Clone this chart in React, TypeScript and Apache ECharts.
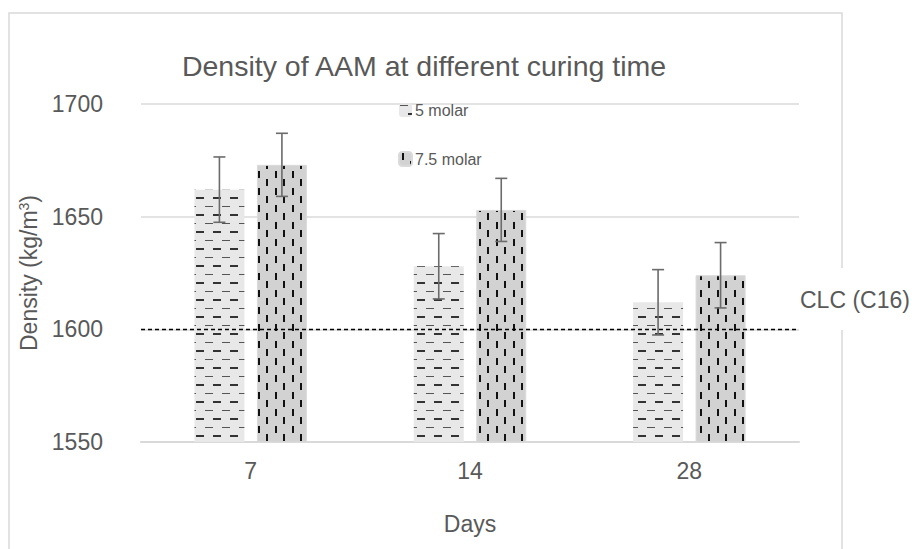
import React, { useEffect, useRef } from "react";
import * as echarts from "echarts";

const categories = ["7", "14", "28"];
const seriesNames = ["5 molar", "7.5 molar"];
const molar5 = [1662, 1628, 1612];
const molar75 = [1673, 1653, 1624];
const err5 = [14.5, 14.5, 14.5];
const err75 = [14, 14, 14.5];
const yTicks = { min: 1550, max: 1700, interval: 50 };
const clcValue = 1600;
const clcLabel = "CLC (C16)";
const titleText = "Density of AAM at different curing time";
const xName = "Days";

const FONT = "'Liberation Sans', Arial, sans-serif";
const TXT = "#595959";
const BAR_W = 50;
const GAP_RATIO = 0.25;

function makePattern(kind: "h" | "v"): HTMLCanvasElement {
  const c = document.createElement("canvas");
  c.width = 17;
  c.height = 17;
  const g = c.getContext("2d")!;
  if (kind === "h") {
    g.fillStyle = "#e8e8e8";
    g.fillRect(0, 0, 17, 17);
    g.fillStyle = "#555555";
    g.fillRect(1, 2, 8, 1);
    g.fillStyle = "#333333";
    g.fillRect(9, 10, 8, 2);
  } else {
    g.fillStyle = "#d2d2d2";
    g.fillRect(0, 0, 17, 17);
    g.fillStyle = "#111111";
    g.fillRect(3, 1, 2, 7);
    g.fillRect(11, 9, 2, 7);
  }
  return c;
}

export default function App() {
  const ref = useRef<HTMLDivElement>(null);
  useEffect(() => {
    if (!ref.current) return;
    const chart = echarts.init(ref.current, undefined, { renderer: "svg" });
    const offset = (BAR_W + BAR_W * GAP_RATIO) / 2;
    const errData = (vals: number[], errs: number[]) =>
      vals.map((v, i) => [i, v - errs[i], v + errs[i]]);
    const errSeries = (name: string, vals: number[], errs: number[], sign: number) => ({
      type: "custom",
      name: name + " err",
      data: errData(vals, errs),
      z: 10,
      silent: true,
      renderItem: (params: any, api: any) => {
        const lo = api.coord([api.value(0), api.value(1)]);
        const hi = api.coord([api.value(0), api.value(2)]);
        const x = lo[0] + sign * offset;
        const cap = 6;
        const style = { stroke: "#6b6b6b", lineWidth: 1.6, fill: null };
        return {
          type: "group",
          children: [
            { type: "line", shape: { x1: x, y1: lo[1], x2: x, y2: hi[1] }, style },
            { type: "line", shape: { x1: x - cap, y1: lo[1], x2: x + cap, y2: lo[1] }, style },
            { type: "line", shape: { x1: x - cap, y1: hi[1], x2: x + cap, y2: hi[1] }, style },
          ],
        };
      },
    });
    const patH = makePattern("h");
    const patV = makePattern("v");
    chart.setOption({
      animation: false,
      textStyle: { fontFamily: FONT, color: TXT },
      title: {
        text: titleText,
        left: 419,
        textAlign: "center",
        top: 46,
        textStyle: { fontFamily: FONT, fontSize: 28.5, fontWeight: "normal", color: TXT },
      },
      legend: {
        orient: "vertical",
        left: 393,
        top: 97,
        itemWidth: 13,
        itemHeight: 14,
        itemGap: 33,
        data: seriesNames,
        textStyle: { fontFamily: FONT, fontSize: 16, color: TXT, padding: [0, 0, 0, -2] },
      },
      grid: { left: 141, right: 117, top: 104, bottom: 107 },
      xAxis: {
        type: "category",
        data: categories,
        name: xName,
        nameLocation: "middle",
        nameGap: 70,
        nameTextStyle: { fontFamily: FONT, fontSize: 23, color: TXT },
        axisLine: { lineStyle: { color: "#d9d9d9", width: 2 } },
        axisTick: { show: false },
        axisLabel: { fontFamily: FONT, fontSize: 23, color: TXT, margin: 17 },
      },
      yAxis: {
        type: "value",
        min: yTicks.min,
        max: yTicks.max,
        interval: yTicks.interval,
        name: "Density (kg/m{sup|3})",
        nameLocation: "middle",
        nameGap: 87,
        nameTextStyle: {
          fontFamily: FONT,
          fontSize: 23,
          color: TXT,
          rich: { sup: { fontFamily: FONT, fontSize: 14, color: TXT, verticalAlign: "top", padding: [0, 0, 10, 0] } },
        },
        axisLine: { show: false },
        axisTick: { show: false },
        axisLabel: {
          fontFamily: FONT,
          fontSize: 23,
          color: TXT,
          margin: 38,
          formatter: (v: number) => String(v),
        },
        splitLine: { lineStyle: { color: "#e3e3e3", width: 2 } },
      },
      series: [
        {
          type: "bar",
          name: seriesNames[0],
          data: molar5,
          barWidth: BAR_W,
          barGap: GAP_RATIO * 100 + "%",
          itemStyle: {
            color: { image: patH, repeat: "repeat" },
          },
          markLine: {
            silent: true,
            symbol: "none",
            label: { show: false },
            lineStyle: { type: [4, 3], color: "#000", width: 1.3 },
            data: [{ yAxis: clcValue }],
          },
        },
        {
          type: "bar",
          name: seriesNames[1],
          data: molar75,
          barWidth: BAR_W,
          barGap: GAP_RATIO * 100 + "%",
          itemStyle: {
            color: { image: patV, repeat: "repeat" },
            borderColor: "#dadada",
            borderWidth: 1,
          },
        },
        errSeries(seriesNames[0], molar5, err5, -1),
        errSeries(seriesNames[1], molar75, err75, 1),
      ],
      graphic: [
        {
          type: "rect",
          silent: true,
          shape: { x: 9, y: 13, width: 833, height: 560 },
          style: { fill: "none", stroke: "#d9d9d9", lineWidth: 1.5 },
          z: -1,
        },
        {
          type: "rect",
          silent: true,
          shape: { x: 835, y: 268, width: 15, height: 62 },
          style: { fill: "#fff" },
          z: 0,
        },
        {
          type: "text",
          silent: true,
          x: 800,
          y: 300,
          style: {
            text: clcLabel,
            fontFamily: FONT,
            fontSize: 23,
            fill: TXT,
            textVerticalAlign: "middle",
          },
          z: 1,
        },
      ],
    });
    return () => chart.dispose();
  }, []);
  return (
    <div
      ref={ref}
      style={{ position: "fixed", left: 0, top: 0, width: 916, height: 549, background: "#fff" }}
    />
  );
}
